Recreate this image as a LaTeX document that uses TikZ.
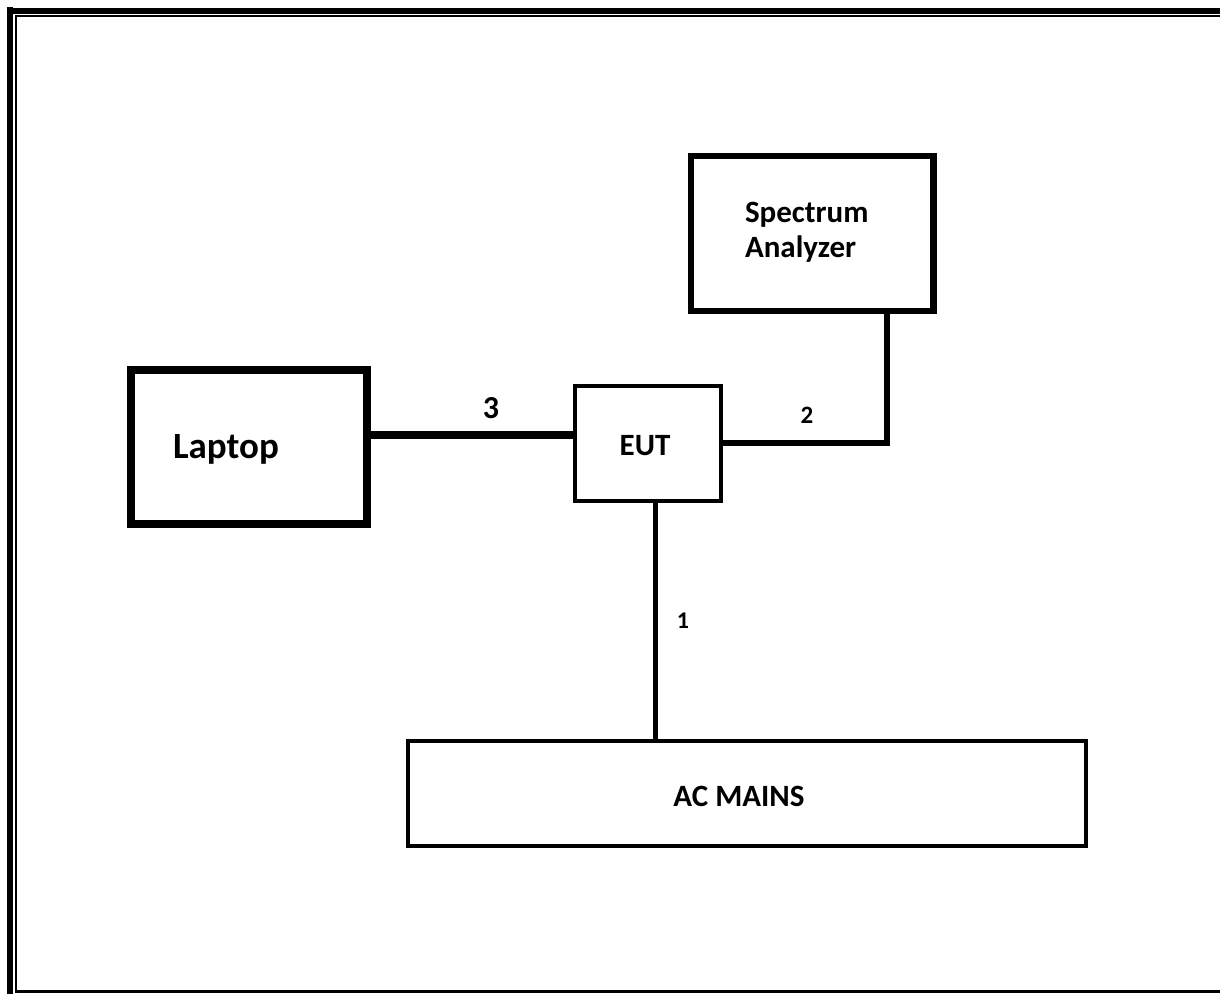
\documentclass[tikz,border=0pt]{standalone}
\usepackage{fontspec}
\setmainfont{Carlito}
\begin{document}
\begin{tikzpicture}[x=1pt,y=-1pt,
  box/.style={draw,rectangle,fill=white,inner sep=0pt,outer sep=0pt,line join=miter},
  lbl/.style={inner sep=0pt,outer sep=0pt,font=\bfseries\fontsize{31}{37}\selectfont},
  num/.style={inner sep=0pt,outer sep=0pt,font=\bfseries\fontsize{24}{29}\selectfont}]
\useasboundingbox (0,0) rectangle (1220,994);
% frame
\draw[line width=6pt] (10,7) -- (10,994);
\draw[line width=6pt] (7,11) -- (1220,11);
\draw[line width=2pt] (16,15) -- (16,993);
\draw[line width=2pt] (15,16) -- (1220,16);
\draw[line width=3pt] (15,991.5) -- (1220,991.5);
% boxes (coordinates only first, for connectors)
\node[box,draw=none,fill=none,minimum width=236pt,minimum height=154pt] (lap) at (249,447) {};
\node[box,draw=none,fill=none,minimum width=242.5pt,minimum height=155pt] (sa) at (812.25,233.5) {};
\node[box,draw=none,fill=none,minimum width=145.5pt,minimum height=114.5pt] (eut) at (647.75,443.25) {};
\node[box,draw=none,fill=none,minimum width=678pt,minimum height=105pt] (ac) at (747,793.5) {};
% connectors
\draw[line width=8pt] ([yshift=12pt]lap.east) -- ([yshift=12pt]lap.east -| eut.west);
\draw[line width=6pt,line join=miter] (eut.east) -| ([xshift=74.5pt]sa.south);
\draw[line width=5pt] ([xshift=7.25pt]eut.south) -- ([xshift=7.25pt]eut.south |- ac.north);
% drawn boxes
\draw[line width=8pt,line join=miter,fill=white] (lap.north west) rectangle (lap.south east);
\draw[line width=6.5pt,line join=miter,fill=white] (sa.north west) rectangle (sa.south east);
\draw[line width=4pt,line join=miter,fill=white] (eut.north west) rectangle (eut.south east);
\draw[line width=4pt,line join=miter,fill=white] (ac.north west) rectangle (ac.south east);
% texts
\node[lbl,anchor=base west] (tsa1) at (745,222) {Spectrum};
\node[lbl,anchor=base west] (tsa2) at (745,257) {Analyzer};
\node[lbl,anchor=base west,font=\bfseries\fontsize{37}{44}\selectfont] (tlap) at (173,458) {Laptop};
\node[lbl,anchor=base] (teut) at (645,455) {EUT};
\node[lbl,anchor=base] (tac) at (739,806) {AC MAINS};
\node[num,anchor=base,font=\bfseries\fontsize{32}{38}\selectfont] (n3) at (491,418) {3};
\node[num,anchor=base,font=\bfseries\fontsize{25}{30}\selectfont] (n2) at (807,423) {2};
\node[num,anchor=base] (n1) at (683,628) {1};
\end{tikzpicture}
\end{document}
